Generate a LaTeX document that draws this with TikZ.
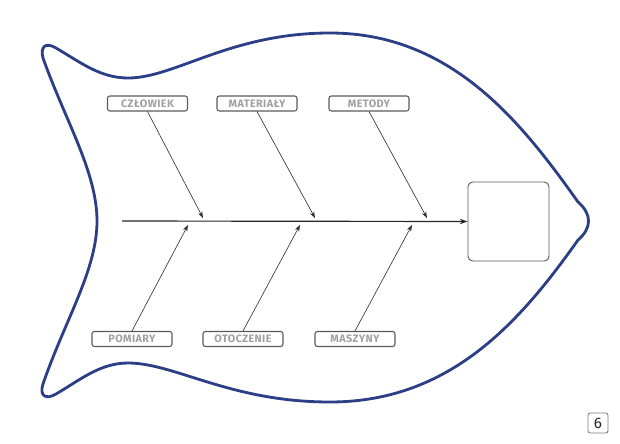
\documentclass[tikz,border=0pt]{standalone}
\usepackage{fontspec}
\setmainfont{Fira Sans}
\newfontfamily\labelfont{Fira Sans}[LetterSpace=4]
\usetikzlibrary{arrows.meta}
\definecolor{fishblue}{HTML}{2C3E86}
\definecolor{labelgray}{HTML}{A0A0A0}
\definecolor{edgegray}{HTML}{5A5A5A}
\tikzset{
  cause/.style={draw=edgegray, line width=0.9pt, rounded corners=2pt,
    minimum width=2.4cm, minimum height=0.45cm, inner sep=0pt,
    text=labelgray, font=\labelfont\fontsize{9.2}{10}\selectfont\bfseries},
  bone/.style={draw=black!80, line width=0.55pt, -{Stealth[length=5.5pt,width=4pt]}},
}
\begin{document}
\begin{tikzpicture}[x=0.03cm, y=-0.03cm]
  \useasboundingbox (0, 0) rectangle (620, 443);
  % fish outline
  \draw[fishblue, line width=2.4pt, line join=round]
    (43, 58) .. controls (40, 46) and (46, 42) .. (56, 48)
    .. controls (80, 62) and (100, 78) .. (128, 78)
    .. controls (175, 78) and (230, 33) .. (330, 33)
    .. controls (450, 33) and (520, 120) .. (578, 202)
    .. controls (592, 214) and (592, 228) .. (578, 240)
    .. controls (520, 322) and (450, 402) .. (330, 402)
    .. controls (230, 402) and (175, 363) .. (128, 363)
    .. controls (100, 363) and (80, 380) .. (56, 394)
    .. controls (46, 400) and (39, 396) .. (43, 384)
    .. controls (65, 320) and (97, 270) .. (97, 221)
    .. controls (97, 172) and (65, 120) .. (43, 58) -- cycle;
  % spine and head
  \node[draw=edgegray, line width=0.8pt, rounded corners=4pt,
    minimum width=2.43cm, minimum height=2.37cm] (effect) at (508.5, 221.5) {};
  \coordinate (tail) at (122, 221);
  \draw[draw=black!85, line width=1pt, -{Stealth[length=6.5pt,width=4.5pt]}] (tail) -- (effect.west);
  % causes
  \node[cause] (czlowiek) at (147.5, 103.5) {CZŁOWIEK};
  \node[cause] (materialy) at (257, 103.5) {MATERIAŁY};
  \node[cause] (metody) at (369, 103.5) {METODY};
  \node[cause] (pomiary) at (132, 339) {POMIARY};
  \node[cause] (otoczenie) at (243, 339) {OTOCZENIE};
  \node[cause] (maszyny) at (355, 339) {MASZYNY};
  \coordinate (t1) at (203, 218);
  \coordinate (t2) at (315, 218);
  \coordinate (t3) at (427, 218);
  \coordinate (b1) at (188, 225);
  \coordinate (b2) at (300, 225);
  \coordinate (b3) at (412, 225);
  \foreach \c/\e in {czlowiek/t1, materialy/t2, metody/t3}
    \draw[bone] (\c.south) -- (\e);
  \foreach \c/\e in {pomiary/b1, otoczenie/b2, maszyny/b3}
    \draw[bone] (\c.north) -- (\e);
  % page number
  \node[draw=edgegray!80, line width=0.7pt, rounded corners=2pt,
    minimum width=0.6cm, minimum height=0.6cm, inner sep=0pt,
    font=\fontsize{13}{13}\selectfont, text=black!85] (page) at (598, 423) {6};
\end{tikzpicture}
\end{document}
